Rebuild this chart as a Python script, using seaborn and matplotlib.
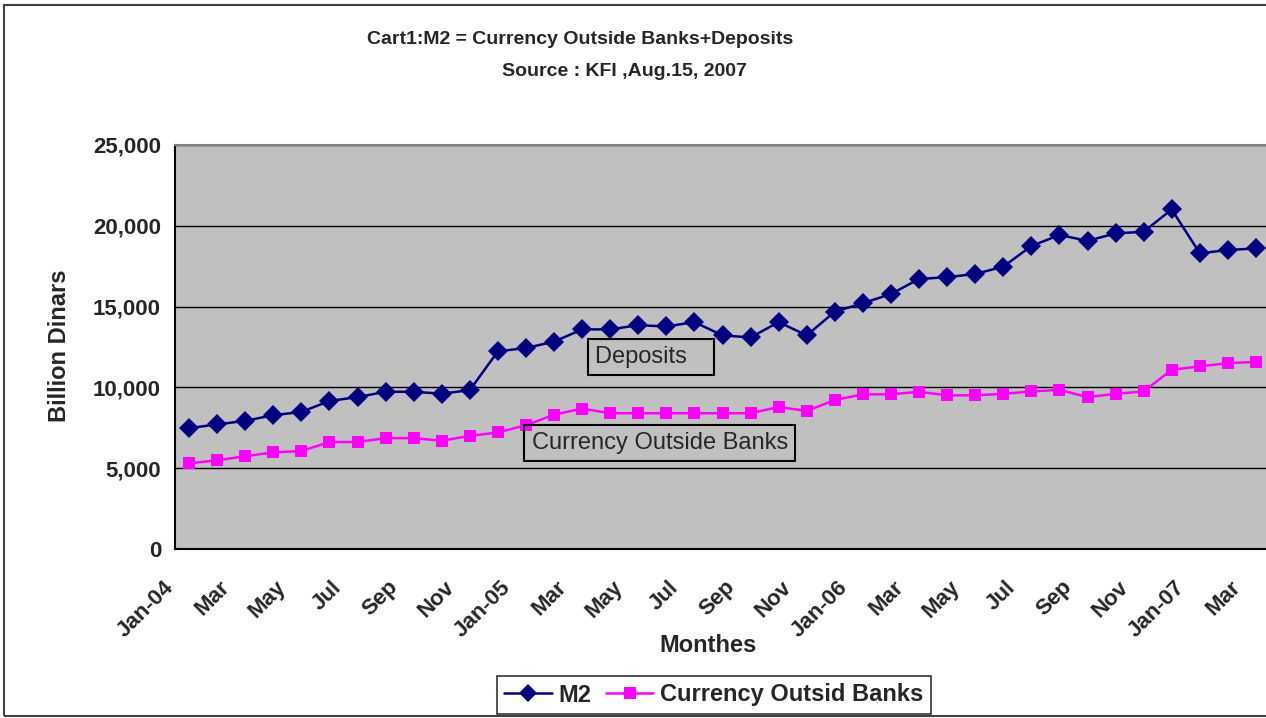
import numpy as np
import pandas as pd
import seaborn as sns
import matplotlib.pyplot as plt
import matplotlib.transforms as mtransforms
from matplotlib.lines import Line2D
from matplotlib.patches import Rectangle

# monthly data Jan-04 .. Mar-07 (billion dinars)
month_names = ['Jan', 'Feb', 'Mar', 'Apr', 'May', 'Jun', 'Jul', 'Aug', 'Sep', 'Oct', 'Nov', 'Dec']
years = ['04', '05', '06', '07']
months = [m + '-' + y for y in years for m in month_names][:39]

m2 = [7480, 7710, 7930, 8280, 8480, 9160, 9400, 9730, 9730, 9610, 9830,
      12230, 12440, 12830, 13590, 13590, 13850, 13770, 14040, 13220, 13090,
      14040, 13220, 14690, 15210, 15780, 16710, 16820, 17020, 17470, 18750,
      19430, 19070, 19530, 19630, 21010, 18300, 18500, 18600]

currency = [5300, 5490, 5740, 5980, 6060, 6620, 6620, 6860, 6860, 6700, 7000,
            7210, 7660, 8310, 8690, 8400, 8400, 8400, 8400, 8400, 8400,
            8790, 8540, 9220, 9570, 9570, 9730, 9510, 9510, 9600, 9750,
            9850, 9400, 9600, 9750, 11090, 11300, 11500, 11580]

# label every second month, year only on January
tick_labels = [m if m.startswith('Jan') else m[:3] for m in months[::2]]

series_names = ['M2', 'Currency Outsid Banks']
colors = {'M2': '#000080', 'Currency Outsid Banks': '#FF00FF'}
markers = {'M2': 'D', 'Currency Outsid Banks': 's'}

df = pd.DataFrame({'idx': np.arange(len(months)), 'M2': m2,
                   'Currency Outsid Banks': currency})
df = df.melt(id_vars='idx', var_name='series', value_name='value')

sns.set_style('white')
plt.rcParams['font.family'] = ['Liberation Sans', 'DejaVu Sans']
plt.rcParams['font.weight'] = 'bold'

W, H = 1266, 718
fig = plt.figure(figsize=(W / 100, H / 100), dpi=100)
ax = fig.add_axes([175 / W, 169 / H, 1095 / W, 404 / H])
ax.set_facecolor('#C0C0C0')

sns.lineplot(data=df, x='idx', y='value', hue='series', style='series',
             hue_order=series_names, style_order=series_names,
             palette=colors, markers=markers, dashes=False,
             markersize=8, markeredgewidth=0, linewidth=1.8,
             legend=False, ax=ax)
for ln in ax.lines:
    ln.set_markersize(9 if ln.get_marker() == 's' else 10)

ax.set_xlim(-0.5, len(months) - 0.5)
ax.set_ylim(0, 25000)
ax.set_yticks(range(0, 25001, 5000))
ax.set_yticklabels([f'{v:,}' for v in range(0, 25001, 5000)],
                   fontsize=16, fontweight='bold')
ax.yaxis.grid(True, color='black', linewidth=1)
ax.set_axisbelow(True)

ax.set_xticks(np.arange(0, len(months), 2))
ax.set_xticklabels(tick_labels, fontsize=16, fontweight='bold',
                   rotation=45, ha='right', rotation_mode='anchor')
ax.set_xticks(np.arange(-0.5, len(months), 1), minor=True)
ax.tick_params(axis='x', which='major', length=0, pad=20)
ax.tick_params(axis='x', which='minor', length=6, width=1, color='black', direction='out')
ax.tick_params(axis='y', length=6, width=1, color='black', direction='out', pad=4)
shift = mtransforms.ScaledTranslation(-0.26, 0, fig.dpi_scale_trans)
for lab in ax.get_xticklabels():
    lab.set_transform(lab.get_transform() + shift)
ax.set_xlabel('')
ax.set_ylabel('')

for s in ['left', 'bottom']:
    ax.spines[s].set_color('black')
    ax.spines[s].set_linewidth(1.5)
ax.spines['top'].set_color('#808080')
ax.spines['top'].set_linewidth(1.5)
ax.spines['right'].set_visible(False)

# titles and axis titles
fig.text(580 / W, 1 - 40 / H, 'Cart1:M2 = Currency Outside Banks+Deposits',
         ha='center', va='center', fontsize=14, fontweight='bold')
fig.text(624 / W, 1 - 71 / H, 'Source : KFI ,Aug.15, 2007',
         ha='center', va='center', fontsize=14, fontweight='bold')
fig.text(60 / W, 1 - 346 / H, 'Billion Dinars', rotation=90,
         ha='center', va='center', fontsize=17, fontweight='bold')
fig.text(708 / W, 1 - 645 / H, 'Monthes', ha='center', va='center',
         fontsize=17, fontweight='bold')

# labels inside the plot
box = dict(boxstyle='square,pad=0.3', fc='none', ec='black', lw=1.5)
ax.text(14.45, 11880, 'Deposits   ', ha='left', va='center', fontsize=17,
        fontweight='normal', bbox=box)
ax.text(12.2, 6560, 'Currency Outside Banks', ha='left', va='center', fontsize=17,
        fontweight='normal', bbox=box)

# legend
handles = [Line2D([], [], color=colors[n], marker=markers[n], markersize=9,
                  markeredgewidth=0, linewidth=1.8) for n in series_names]
leg = fig.legend(handles, series_names, loc='center', ncol=2,
                 bbox_to_anchor=(714 / W, 1 - 695 / H),
                 prop={'size': 17, 'weight': 'bold'}, frameon=True, fancybox=False,
                 handlelength=2.0, handletextpad=0.3, columnspacing=0.6,
                 borderpad=0.3)
leg.get_frame().set_edgecolor('black')
leg.get_frame().set_linewidth(1.2)

# chart area border
fig.patches.append(Rectangle((4 / W, 2 / H), 1.2, 1 - 7 / H, transform=fig.transFigure,
                             fill=False, ec='#404040', lw=1.5))

fig.savefig('out.png', dpi=100)
